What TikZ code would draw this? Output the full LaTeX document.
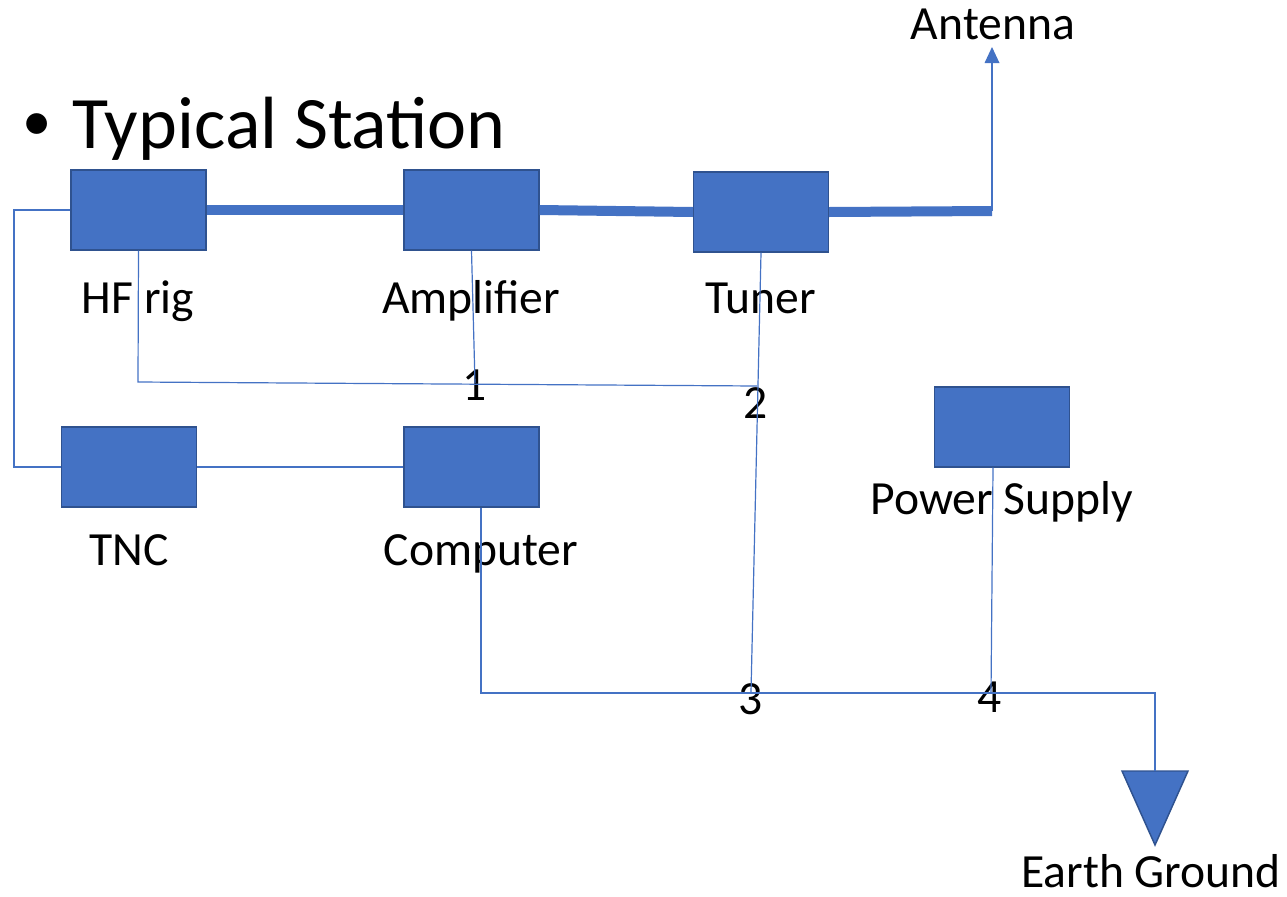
\documentclass[tikz,border=0pt]{standalone}
\usepackage{fontspec}
\setmainfont{Carlito}
\usetikzlibrary{arrows.meta}
\definecolor{acc}{HTML}{4472C4}
\definecolor{accd}{HTML}{2F528F}
\tikzset{
  box/.style={draw=accd, fill=acc, line width=1.1pt, minimum width=101pt, minimum height=60pt, inner sep=0pt},
  thickc/.style={draw=acc, line width=7.5pt},
  thinc/.style={draw=acc, line width=0.9pt},
  lbl/.style={anchor=base, font=\fontsize{35.7}{40}\selectfont, inner sep=0pt},
}
\begin{document}
\begin{tikzpicture}[x=0.75pt, y=-0.75pt]
\useasboundingbox (0,0) rectangle (1287,896);
% title
\node[anchor=base, inner sep=0pt, font=\fontsize{44}{50}\selectfont] (bul) at (37,140) {•};
\node[anchor=base west, inner sep=0pt, font=\fontsize{55.5}{60}\selectfont] (title) at (72,148) {Typical Station};
% boxes
\node[box] (hf) at (138.5,210) {};
\node[box] (amp) at (471.5,210) {};
\node[box] (tuner) at (761,212) {};
\node[box] (ps) at (1002,427) {};
\node[box] (tnc) at (129,467) {};
\node[box] (comp) at (471.5,467) {};
% labels
\node[lbl] (lhf) at (138,313) {HF rig};
\node[lbl] (lamp) at (471,313) {Amplifier};
\node[lbl] (ltuner) at (761,313) {Tuner};
\node[lbl] (ltnc) at (129,565) {TNC};
\node[lbl] (lcomp) at (481,565) {Computer};
\node[lbl] (lps) at (1002,514) {Power Supply};
\node[lbl] (lant) at (993,39) {Antenna};
\node[lbl] (lgnd) at (1151,887) {Earth Ground};
\node[lbl] (n1) at (475,400) {1};
\node[lbl] (n2) at (756,418) {2};
\node[lbl] (n3) at (751,714) {3};
\node[lbl] (n4) at (990,712) {4};
% coordinates
\coordinate (antb) at (992,211);
\coordinate (antt) at (992,47);
\coordinate (gnd) at (1155,771);
\coordinate (c1) at (14,210);
\coordinate (c2) at (138,382);
\coordinate (c3) at (757,386);
\coordinate (c4) at (475,383);
\coordinate (c5) at (751,692);
\coordinate (c6) at (481,693);
\coordinate (c7) at (1155,693);
\coordinate (c8) at (991,693);
\coordinate (px) at (993,0);
% ground triangle
\draw[draw=accd, fill=acc, line width=1.1pt] (1122,771) -- (1188,771) -- (1155,845) -- cycle;
% thick RF line
\draw[thickc] (hf.east) -- (amp.west);
\draw[thickc] (amp.east) -- (tuner.west);
\draw[thickc] (tuner.east) -- (antb);
\draw[thinc, -{Triangle[length=12pt, width=11pt]}] (antb) -- (antt);
% thin wires
\draw[thinc] (hf.west) -- (c1) |- (tnc.west);
\draw[thinc] (tnc.east) -- (comp.west);
\draw[thinc] (hf.south) -- (c2) -- (c3);
\draw[thinc] (amp.south) -- (c4);
\draw[thinc] (tuner.south) -- (c5);
\draw[thinc] (c6 |- comp.south) -- (c6) -- (c7) -- (gnd);
\draw[thinc] (ps.south -| px) -- (c8);
\end{tikzpicture}
\end{document}
